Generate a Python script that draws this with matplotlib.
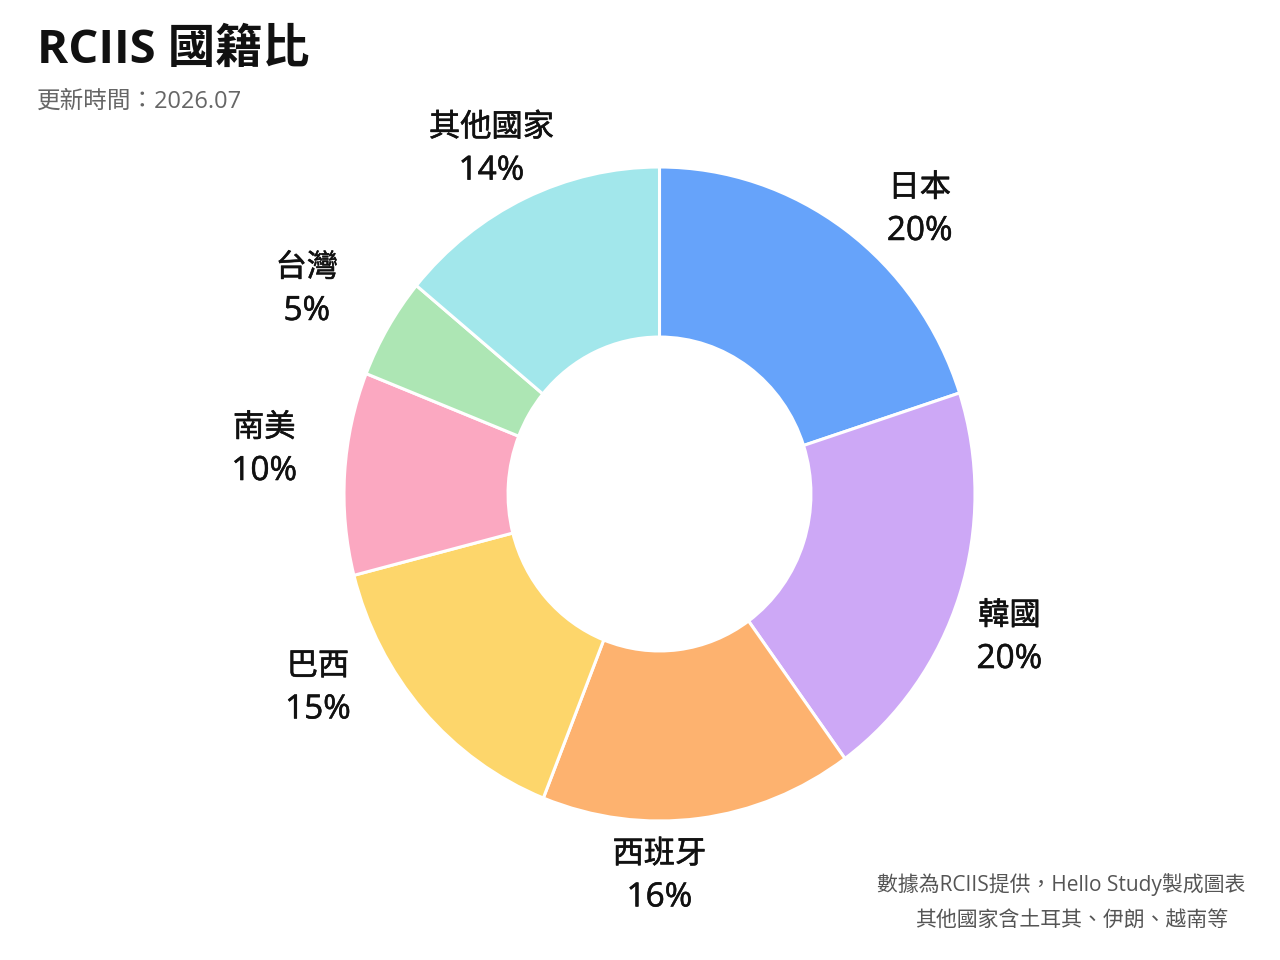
import matplotlib
matplotlib.use("Agg")
import matplotlib.pyplot as plt
import matplotlib.patheffects as pe
import numpy as np

FONTS = ['Open Sans', 'Noto Sans CJK TC', 'DejaVu Sans']
plt.rcParams['font.family'] = FONTS

# ---- data ----
categories = ['日本', '韓國', '西班牙', '巴西', '南美', '台灣', '其他國家']
values = [20, 20, 16, 15, 10, 5, 14]
colors = ['#66A3FA', '#CDA8F6', '#FDB26F', '#FDD66B', '#FBA8C1', '#ADE6B4', '#A2E7EB']
title = 'RCIIS 國籍比'
subtitle = '更新時間：2026.07'
footer1 = '數據為RCIIS提供，Hello Study製成圖表'
footer2 = '其他國家含土耳其、伊朗、越南等'

# ---- layout (pixels) ----
W, H = 1280, 960
left_px, right_px, top_px, bottom_px = 344, 975, 167, 821
cx = (left_px + right_px) / 2
cy = (top_px + bottom_px) / 2
ring_w = 0.52
label_r = 390
# per-label nudges (dx right, dy down) in pixels
nudges = [(31, 31), (-21, 23), (-49, -5), (-49, -64), (-6, -20), (-17, -6), (-2, 8)]

fig = plt.figure(figsize=(12.8, 9.6), dpi=100)
ax = fig.add_axes([left_px / W, 1 - bottom_px / H,
                   (right_px - left_px) / W, (bottom_px - top_px) / H])
wedges, _ = ax.pie(values, colors=colors, startangle=90, counterclock=False,
                   radius=1, frame=True,
                   wedgeprops=dict(width=ring_w, edgecolor='white', linewidth=2.2))
ax.set_xlim(-1, 1)
ax.set_ylim(-1, 1)
ax.set_aspect('auto')
ax.axis('off')

thick = [pe.withStroke(linewidth=0.4, foreground='#111111')]
for w, name, v, (dx, dy) in zip(wedges, categories, values, nudges):
    mid = np.deg2rad((w.theta1 + w.theta2) / 2)
    x = cx + label_r * np.cos(mid) + dx
    y = cy - label_r * np.sin(mid) + dy  # pixel coords, y down
    fig.text(x / W, 1 - (y - 21) / H, name, ha='center', va='center', fontsize=22.5,
             color='#111111', path_effects=thick)
    fig.text(x / W, 1 - (y + 22) / H, f'{v}%', ha='center', va='center', fontsize=24,
             color='#111111', path_effects=thick)

fig.text(37 / W, 1 - 50 / H, title, ha='left', va='center', fontsize=34,
         fontweight='bold', color='#111111')
fig.text(37 / W, 1 - 102 / H, subtitle, ha='left', va='center', fontsize=17,
         color='#666666')
fig.text(1245 / W, 1 - 885 / H, footer1, ha='right', va='center', fontsize=15,
         color='#555555')
fig.text(1228 / W, 1 - 920 / H, footer2, ha='right', va='center', fontsize=15,
         color='#555555')

fig.savefig('out.png', dpi=100, facecolor='white')
